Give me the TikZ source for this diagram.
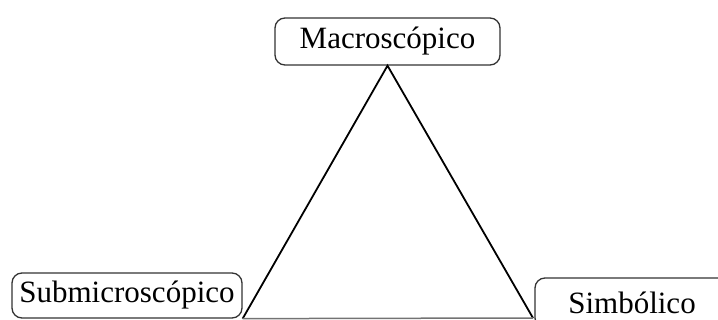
\documentclass[tikz,border=0pt]{standalone}
\usepackage{fontspec}
\setmainfont{Liberation Serif}
\begin{document}
\begin{tikzpicture}[x=1pt, y=-1pt]

  \tikzset{
    level/.style={draw=black!80, line width=1.3pt, rounded corners=10pt,
      inner sep=0pt, font=\fontsize{31}{36}\selectfont},
    side/.style={line width=1.8pt, black}
  }

  \useasboundingbox (0,0) rectangle (718,320);
  \clip (0,0) rectangle (718,320);

  % Three levels
  \node (macro) at (387.5, 41.5) [level, minimum width=225pt, minimum height=47pt] {Macroscópico};
  \node (submicro) at (127, 295.5) [level, minimum width=230pt, minimum height=45pt] {Submicroscópico};
  \node (simb) at (632, 303) [level, minimum width=194pt, minimum height=50pt] {Simbólico};

  % Triangle
  \coordinate (rv) at (533, 318);
  \draw[side] (submicro.south east) -- (macro.south) -- (rv);
  \draw[line width=1.5pt, black!55] (submicro.south east) -- (rv);

\end{tikzpicture}
\end{document}
